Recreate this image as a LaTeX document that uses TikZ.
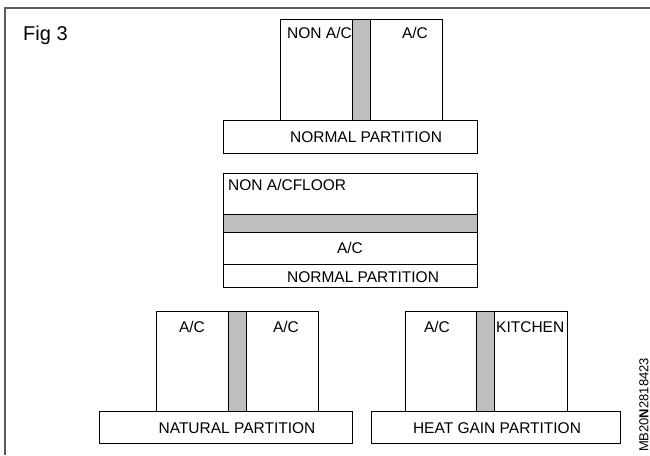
\documentclass[tikz,border=0pt]{standalone}
\usepackage{fontspec}
\setmainfont{Liberation Sans}
\definecolor{partgray}{RGB}{190,190,190}
\definecolor{framegray}{RGB}{90,90,90}
\begin{document}
\begin{tikzpicture}[x=1pt,y=-1pt,
  room/.style={draw=black,line width=0.8pt,fill=white},
  wall/.style={draw=black,line width=0.8pt,fill=partgray},
  lbl/.style={inner sep=0pt,font=\fontsize{15.5}{18}\selectfont},
]
\useasboundingbox (0,0) rectangle (650,455);
\draw[framegray,line width=1.2pt] (650,8) -- (5,8) -- (5,455);
\node[inner sep=0pt,anchor=base west,font=\fontsize{20}{23}\selectfont] (fig) at (23,40) {Fig 3};

% top: normal partition (vertical)
\draw[room] (280,19) rectangle (352,120);
\draw[room] (370,19) rectangle (442,120);
\draw[wall] (352,19) rectangle (370,120);
\draw[room] (223,120) rectangle (477,153);
\node[lbl,anchor=west] (t1) at (287,32.5) {NON A/C};
\node[lbl] (t2) at (415,32.5) {A/C};
\node[lbl] (t3) at (366,137) {NORMAL PARTITION};

% middle: floor partition
\draw[room] (223,173) rectangle (477,287);
\draw[wall] (223,214) rectangle (477,232);
\draw[black,line width=0.8pt] (223,264) -- (477,264);
\node[lbl,anchor=west] (m1) at (228,185) {NON A/CFLOOR};
\node[lbl] (m2) at (350,248) {A/C};
\node[lbl] (m3) at (363,277) {NORMAL PARTITION};

% bottom left: natural partition
\draw[room] (156,311) rectangle (228,411);
\draw[room] (246,311) rectangle (318,411);
\draw[wall] (228,311) rectangle (246,411);
\draw[room] (99,411) rectangle (352,443);
\node[lbl] (l1) at (192,327) {A/C};
\node[lbl] (l2) at (286,327) {A/C};
\node[lbl] (l3) at (237,428) {NATURAL PARTITION};

% bottom right: heat gain partition
\draw[room] (405,311) rectangle (476,411);
\draw[room] (494,311) rectangle (567,411);
\draw[wall] (476,311) rectangle (494,411);
\draw[room] (371,411) rectangle (620,443);
\node[lbl] (r1) at (437,327) {A/C};
\node[lbl,anchor=west] (r2) at (496,327) {KITCHEN};
\node[lbl] (r3) at (497,428) {HEAT GAIN PARTITION};

\node[inner sep=0pt,rotate=90,font=\fontsize{13}{15}\selectfont] (code) at (644,405) {MB20\textbf{N}2818423};
\end{tikzpicture}
\end{document}
